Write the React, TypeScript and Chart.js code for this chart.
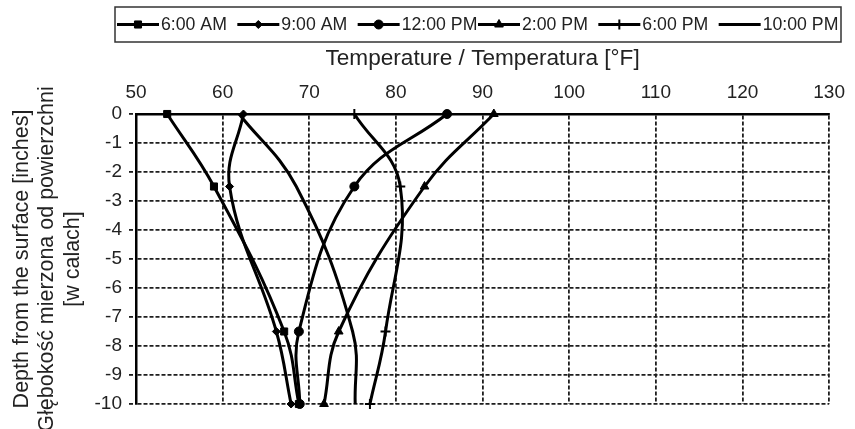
import React, { useEffect, useRef } from 'react';
import { Chart, registerables } from 'chart.js';
import { drawPoint } from 'chart.js/helpers';

Chart.register(...registerables);

// ---- data ----
const depths = [0, -2.5, -7.5, -10];
const seriesLabels = ['6:00 AM', '9:00 AM', '12:00 PM', '2:00 PM', '6:00 PM', '10:00 PM'];
const temp6am = [53.6, 59.0, 67.1, 68.8];
const temp9am = [62.4, 60.8, 66.2, 67.9];
const temp12pm = [85.9, 75.2, 68.8, 68.9];
const temp2pm = [91.3, 83.3, 73.4, 71.7];
const temp6pm = [75.2, 80.5, 78.8, 77.0];
const temp10pm = [61.9, 68.5, 75.0, 75.3];
const tempMin = 50;
const tempMax = 130;
const tempStep = 10;
const depthMin = -10;
const depthMax = 0;
const depthStep = 1;
const xTitle = 'Temperature / Temperatura [°F]';
const yTitle = ['Depth from the surface [inches]', 'Głębokość mierzona od powierzchni', '[w calach]'];

const seriesValues = [temp6am, temp9am, temp12pm, temp2pm, temp6pm, temp10pm];
const markerStyles: any[] = ['rect', 'rectRot', 'circle', 'triangle', 'cross', false];
const markerRadius = [5, 4, 4.5, 5, 5, 0];

const FONT = '"Liberation Sans", Arial, sans-serif';
const GRID = '#1e1e1e';

const boxLegend = {
  id: 'boxLegend',
  afterDraw(chart: any) {
    const ctx = chart.ctx as CanvasRenderingContext2D;
    const left = 115, right = 841, top = 7, bottom = 42;
    ctx.save();
    ctx.strokeStyle = '#333';
    ctx.lineWidth = 1.5;
    ctx.strokeRect(left, top, right - left, bottom - top);
    const n = chart.data.datasets.length;
    const cell = (right - left - 4) / n;
    const cy = (top + bottom) / 2;
    chart.data.datasets.forEach((ds: any, i: number) => {
      const x0 = left + 2 + i * cell;
      ctx.strokeStyle = '#000';
      ctx.lineWidth = 3;
      ctx.setLineDash([]);
      ctx.beginPath();
      ctx.moveTo(x0, cy);
      ctx.lineTo(x0 + 42, cy);
      ctx.stroke();
      if (ds.pointStyle && ds.pointRadius > 0) {
        ctx.fillStyle = '#000';
        ctx.strokeStyle = '#000';
        ctx.lineWidth = ds.pointBorderWidth;
        drawPoint(ctx, { pointStyle: ds.pointStyle, radius: ds.pointRadius, rotation: 0, borderWidth: ds.pointBorderWidth } as any, x0 + 21, cy);
      }
      ctx.fillStyle = '#222';
      ctx.font = `17.7px ${FONT}`;
      ctx.textBaseline = 'middle';
      ctx.textAlign = 'left';
      ctx.fillText(ds.label, x0 + 44, cy + 1);
    });
    ctx.restore();
  },
};

export default function App() {
  const ref = useRef<HTMLCanvasElement | null>(null);

  useEffect(() => {
    if (!ref.current) return;
    const datasets = seriesLabels.map((label, i) => ({
      label,
      data: depths.map((d, j) => ({ x: seriesValues[i][j], y: d })),
      borderColor: '#000',
      backgroundColor: '#000',
      borderWidth: 3,
      tension: 0.4,
      fill: false,
      pointStyle: markerStyles[i],
      pointRadius: markerRadius[i],
      pointBackgroundColor: '#000',
      pointBorderColor: '#000',
      pointBorderWidth: markerStyles[i] === 'cross' ? 2 : 1,
      clip: false as any,
    }));
    const chart = new Chart(ref.current, {
      type: 'line',
      data: { datasets },
      plugins: [boxLegend],
      options: {
        animation: false,
        responsive: true,
        maintainAspectRatio: false,
        events: [],
        layout: { padding: { top: 44, right: 10, bottom: 25, left: 0 } },
        plugins: { legend: { display: false }, tooltip: { enabled: false } },
        scales: {
          x: {
            type: 'linear',
            position: 'top',
            min: tempMin,
            max: tempMax,
            ticks: { stepSize: tempStep, font: { family: FONT, size: 19 }, color: '#222', padding: 10 },
            grid: { color: GRID, lineWidth: 1.8, drawTicks: false },
            border: { display: true, color: '#000', width: 2.5, dash: [4, 2] },
            title: {
              display: true,
              text: xTitle,
              font: { family: FONT, size: 22.6, lineHeight: 1.15 },
              color: '#222',
              padding: { top: 2, bottom: 0 },
            },
            afterFit: (s: any) => { s.height = 70; },
          },
          y: {
            type: 'linear',
            position: 'left',
            min: depthMin,
            max: depthMax,
            ticks: { stepSize: depthStep, font: { family: FONT, size: 19 }, color: '#222', padding: 7 },
            grid: {
              color: GRID, lineWidth: 1.8, drawTicks: true, tickLength: 7,
              tickColor: GRID, tickWidth: 1.8, tickBorderDash: [4, 2],
            },
            border: { display: true, color: '#000', width: 2.5, dash: [4, 2] },
            title: {
              display: true,
              text: yTitle,
              font: { family: FONT, size: 21.5, lineHeight: 1.19 },
              color: '#222',
              padding: { top: 9, bottom: 0 },
            },
            afterFit: (s: any) => { s.width = 136; },
          },
        },
      } as any,
    });
    return () => chart.destroy();
  }, []);

  return (
    <div style={{ position: 'absolute', left: 0, top: 0, width: 855, height: 429 }}>
      <canvas ref={ref} />
    </div>
  );
}
